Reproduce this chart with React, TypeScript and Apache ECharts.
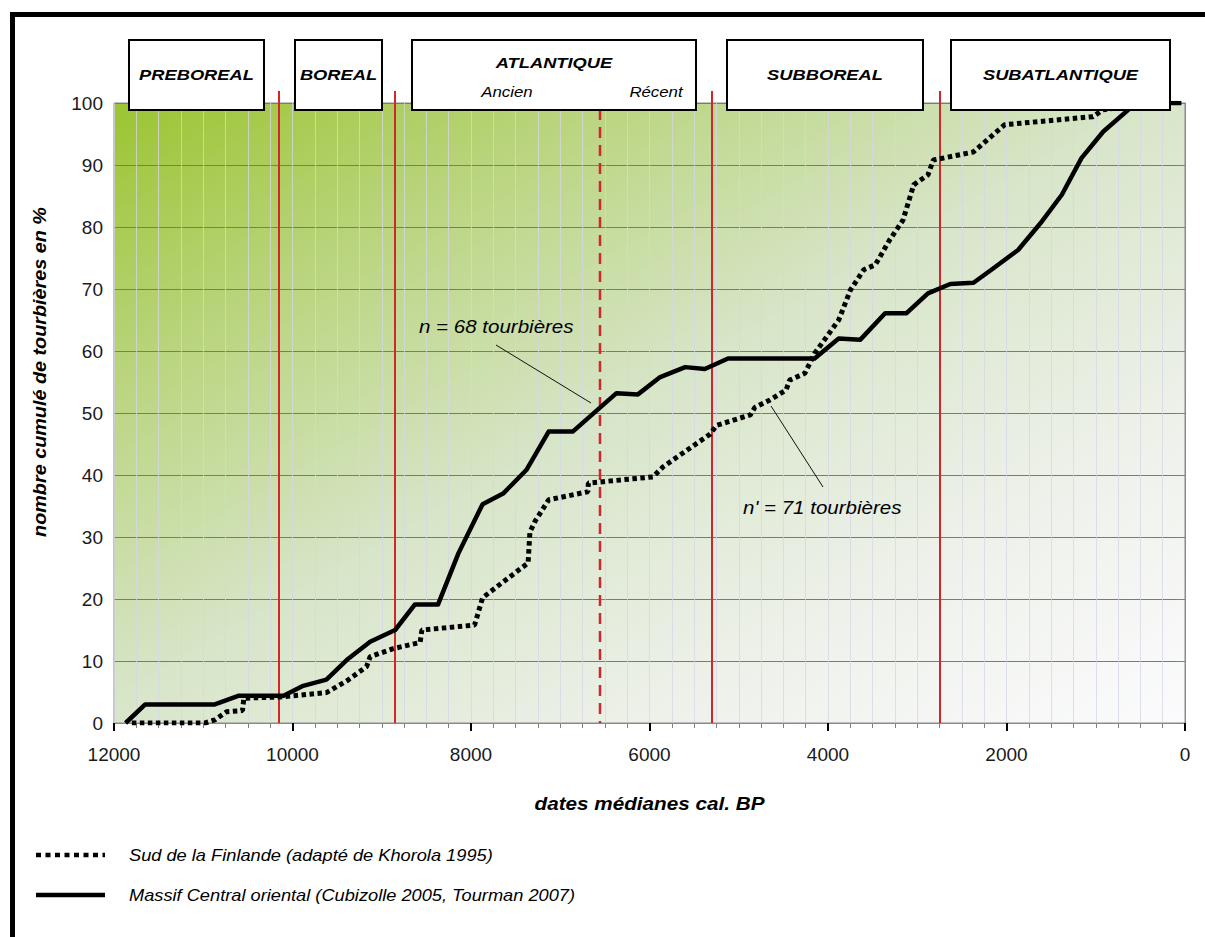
import React, { useEffect, useRef } from "react";
import * as echarts from "echarts";

// Massif Central oriental (solid line): [dates cal. BP, cumulative %]
const massifYears = [11870, 11650, 10870, 10600, 10100, 9880, 9620, 9390, 9130, 8850, 8630, 8370, 8140, 7870, 7640, 7380, 7130, 6860, 6370, 6130, 5880, 5600, 5380, 5120, 4150, 3880, 3640, 3360, 3120, 2880, 2630, 2370, 2150, 1870, 1620, 1380, 1160, 915, 620, 540, 40];
const massifValues = [0, 3, 3, 4.4, 4.4, 6, 7, 10.2, 13.1, 15, 19.1, 19.1, 27.4, 35.3, 37, 40.8, 47, 47, 53.2, 53, 55.8, 57.4, 57.1, 58.8, 58.8, 62, 61.8, 66.1, 66.1, 69.3, 70.8, 71, 73.3, 76.3, 80.6, 85.2, 91.1, 95.4, 99.1, 100, 100];

// Sud de la Finlande (dotted line)
const finlandYears = [11800, 10980, 10870, 10740, 10560, 10545, 10140, 9620, 9380, 9170, 9130, 8870, 8570, 8550, 7960, 7870, 7600, 7360, 7340, 7280, 7130, 6690, 6685, 5960, 5850, 5320, 5250, 4870, 4820, 4650, 4470, 4430, 4260, 4150, 3880, 3750, 3600, 3470, 3310, 3160, 3040, 2880, 2820, 2370, 2020, 1030, 920, 620, 540];
const finlandValues = [0, 0, 0.5, 1.8, 2, 4, 4.2, 4.9, 6.9, 9.1, 10.7, 12, 13, 15, 15.8, 20.2, 23.2, 25.8, 30.8, 32.6, 36, 37.3, 38.7, 39.7, 41.3, 46.6, 48, 49.7, 50.9, 52.1, 53.7, 55.3, 56.4, 59.6, 65, 69.8, 73.1, 73.9, 77.9, 81.1, 86.8, 88.4, 90.8, 92.1, 96.5, 97.8, 98.9, 99.5, 100];

// Period boundaries (cal. BP)
const boundaryYears = [10150, 8850, 5300, 2750];
const atlantiqueSplitYear = 6550;

const periodLabels = ["PREBOREAL", "BOREAL", "ATLANTIQUE", "SUBBOREAL", "SUBATLANTIQUE"];
const atlantiqueSubLabels = ["Ancien", "Récent"];
const legendLabels = [
  "Sud de la Finlande (adapté de Khorola 1995)",
  "Massif Central oriental (Cubizolle 2005, Tourman 2007)",
];
const annotationLabels = ["n = 68 tourbières", "n' = 71 tourbières"];
const xAxisName = "dates médianes cal. BP";
const yAxisName = "nombre cumulé de tourbières en %";

const FONT = '"Liberation Sans", Arial, Helvetica, sans-serif';

export default function App() {
  const ref = useRef<HTMLDivElement>(null);

  useEffect(() => {
    const chart = echarts.init(ref.current!, null, { renderer: "svg" });

    const massifData = massifYears.map((y, i) => [y, massifValues[i]]);
    const finlandData = finlandYears.map((y, i) => [y, finlandValues[i]]);

    const gridLineColor = "rgba(214,214,230,0.75)";

    chart.setOption({
      animation: false,
      backgroundColor: "#ffffff",
      grid: {
        left: 114,
        right: 20,
        top: 103,
        bottom: 214,
        show: true,
        borderColor: "#8a8a8a",
        borderWidth: 1,
        backgroundColor: new echarts.graphic.LinearGradient(0, 0, 1, 1, [
          { offset: 0, color: "#9cc431" },
          { offset: 0.22, color: "#b9d47c" },
          { offset: 0.48, color: "#d7e5c8" },
          { offset: 0.75, color: "#eef1ea" },
          { offset: 1, color: "#fbfbfd" },
        ]),
      },
      xAxis: {
        type: "value",
        inverse: true,
        min: 0,
        max: 12000,
        interval: 2000,
        axisLine: { show: true, onZero: false, lineStyle: { color: "#8a8a8a", width: 1 } },
        axisTick: { show: true, length: 8, lineStyle: { color: "#000", width: 2 } },
        minorTick: { show: true, splitNumber: 8, length: 5, lineStyle: { color: "#808080", width: 1 } },
        axisLabel: {
          fontSize: 19,
          color: "#1a1a1a",
          margin: 22,
          fontFamily: FONT,
          formatter: (v: number) => String(v),
        },
        splitLine: { show: true, lineStyle: { color: gridLineColor, width: 1 } },
        minorSplitLine: { show: true, lineStyle: { color: gridLineColor, width: 1 } },
      },
      yAxis: {
        type: "value",
        min: 0,
        max: 100,
        interval: 10,
        axisLine: { show: true, lineStyle: { color: "#8a8a8a", width: 1 } },
        axisTick: { show: true, length: 7, lineStyle: { color: "#808080", width: 1 } },
        axisLabel: { fontSize: 19, color: "#1a1a1a", margin: 11, fontFamily: FONT },
        splitLine: { show: true, lineStyle: { color: "#7a7a7a", width: 1 } },
      },
      series: [
        {
          name: legendLabels[0],
          type: "line",
          data: finlandData,
          showSymbol: false,
          z: 3,
          lineStyle: { color: "#000", width: 5, type: [4.5, 3.5], cap: "butt" },
        },
        {
          name: legendLabels[1],
          type: "line",
          data: massifData,
          showSymbol: false,
          z: 4,
          lineStyle: { color: "#000", width: 4.5, join: "round" },
        },
      ],
    });

    const px = (year: number, val: number) =>
      chart.convertToPixel({ gridIndex: 0 }, [year, val]) as number[];

    const bottomY = px(0, 0)[1];
    const plotCenterX = (px(12000, 0)[0] + px(0, 0)[0]) / 2;
    const red = "#d0262c";

    const redLines: any[] = boundaryYears.map((yr) => {
      const x = Math.round(px(yr, 0)[0]);
      return {
        type: "line",
        z: 1,
        silent: true,
        shape: { x1: x, y1: 91, x2: x, y2: bottomY },
        style: { stroke: red, lineWidth: 2 },
      };
    });
    const xs = Math.round(px(atlantiqueSplitYear, 0)[0]);
    redLines.push({
      type: "line",
      z: 1,
      silent: true,
      shape: { x1: xs, y1: 91, x2: xs, y2: bottomY },
      style: { stroke: red, lineWidth: 2.5, lineDash: [11, 7] },
    });

    const boxes = [
      { x0: 129, x1: 264 },
      { x0: 295, x1: 382 },
      { x0: 412, x1: 696 },
      { x0: 727, x1: 923 },
      { x0: 951, x1: 1170 },
    ];
    const boxEls: any[] = [];
    boxes.forEach((b, i) => {
      boxEls.push({
        type: "rect",
        z: 20,
        shape: { x: b.x0, y: 40, width: b.x1 - b.x0, height: 70 },
        style: { fill: "#fff", stroke: "#000", lineWidth: 2 },
      });
      const cx = (b.x0 + b.x1) / 2;
      boxEls.push({
        type: "text",
        z: 21,
        x: cx,
        y: i === 2 ? 63 : 75,
        scaleX: 1.22,
        style: {
          text: periodLabels[i],
          font: `italic bold 15px ${FONT}`,
          fill: "#000",
          align: "center",
          verticalAlign: "middle",
        },
      });
    });
    boxEls.push({
      type: "text",
      z: 21,
      x: 507,
      y: 92,
      scaleX: 1.2,
      style: { text: atlantiqueSubLabels[0], font: `italic 14px ${FONT}`, fill: "#000", align: "center", verticalAlign: "middle" },
    });
    boxEls.push({
      type: "text",
      z: 21,
      x: 656,
      y: 92,
      scaleX: 1.2,
      style: { text: atlantiqueSubLabels[1], font: `italic 14px ${FONT}`, fill: "#000", align: "center", verticalAlign: "middle" },
    });

    const annotationEls: any[] = [
      {
        type: "text",
        z: 6,
        x: 419,
        y: 327,
        scaleX: 1.14,
        style: { text: annotationLabels[0], font: `italic 18px ${FONT}`, fill: "#000", align: "left", verticalAlign: "middle" },
      },
      {
        type: "line",
        z: 6,
        shape: { x1: 496, y1: 345, x2: 591, y2: 403 },
        style: { stroke: "#111", lineWidth: 1 },
      },
      {
        type: "text",
        z: 6,
        x: 743,
        y: 508,
        scaleX: 1.14,
        style: { text: annotationLabels[1], font: `italic 18px ${FONT}`, fill: "#000", align: "left", verticalAlign: "middle" },
      },
      {
        type: "line",
        z: 6,
        shape: { x1: 771, y1: 406, x2: 823, y2: 487 },
        style: { stroke: "#111", lineWidth: 1 },
      },
    ];

    const frameEls: any[] = [
      { type: "rect", z: 30, shape: { x: 10, y: 12, width: 1195, height: 5 }, style: { fill: "#000" } },
      { type: "rect", z: 30, shape: { x: 10, y: 12, width: 5, height: 925 }, style: { fill: "#000" } },
    ];

    const titleEls: any[] = [
      {
        type: "text",
        z: 10,
        x: 40,
        y: 372,
        rotation: Math.PI / 2,
        scaleX: 1.1,
        style: { text: yAxisName, font: `italic bold 18px ${FONT}`, fill: "#000", align: "center", verticalAlign: "middle" },
      },
      {
        type: "text",
        z: 10,
        x: plotCenterX,
        y: 804,
        scaleX: 1.15,
        style: { text: xAxisName, font: `italic bold 18px ${FONT}`, fill: "#000", align: "center", verticalAlign: "middle" },
      },
    ];

    const legendEls: any[] = [
      {
        type: "line",
        z: 10,
        shape: { x1: 36, y1: 855, x2: 105, y2: 855 },
        style: { stroke: "#000", lineWidth: 4.5, lineDash: [5, 4.5] },
      },
      {
        type: "text",
        z: 10,
        x: 129,
        y: 855,
        scaleX: 1.14,
        style: { text: legendLabels[0], font: `italic 16px ${FONT}`, fill: "#000", align: "left", verticalAlign: "middle" },
      },
      {
        type: "line",
        z: 10,
        shape: { x1: 36, y1: 895, x2: 105, y2: 895 },
        style: { stroke: "#000", lineWidth: 4.5 },
      },
      {
        type: "text",
        z: 10,
        x: 129,
        y: 895,
        scaleX: 1.14,
        style: { text: legendLabels[1], font: `italic 16px ${FONT}`, fill: "#000", align: "left", verticalAlign: "middle" },
      },
    ];

    chart.setOption({
      graphic: [...redLines, ...boxEls, ...annotationEls, ...frameEls, ...titleEls, ...legendEls],
    });

    return () => chart.dispose();
  }, []);

  return (
    <div
      ref={ref}
      style={{ position: "fixed", left: 0, top: 0, width: 1205, height: 937, background: "#fff" }}
    />
  );
}
